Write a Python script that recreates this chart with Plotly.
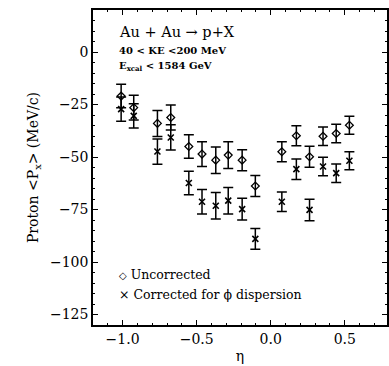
import plotly.graph_objects as go

eta = [-1.01, -0.925, -0.765, -0.675, -0.553, -0.464, -0.371, -0.287,
       -0.193, -0.104, 0.075, 0.173, 0.262, 0.353, 0.442, 0.531]
uncorr = [-21.0, -26.5, -34.0, -31.2, -45.0, -48.6, -51.5, -49.1,
          -51.5, -63.8, -47.5, -39.9, -49.9, -40.1, -38.8, -34.9]
uncorr_err = [5.6, 5.9, 6.2, 6.0, 5.6, 5.9, 6.3, 6.4,
              5.0, 5.0, 4.8, 4.8, 5.0, 4.4, 4.4, 4.3]
corr = [-27.2, -30.4, -47.4, -40.7, -62.4, -71.3, -73.2, -70.8,
        -74.8, -89.0, -71.3, -55.8, -75.2, -54.5, -57.7, -51.8]
corr_err = [5.8, 5.8, 6.0, 6.0, 5.6, 5.8, 6.3, 6.3,
            5.2, 4.9, 4.6, 4.9, 5.1, 4.4, 4.4, 4.3]

FONT = "DejaVu Serif"

fig = go.Figure()
fig.add_trace(go.Scatter(
    x=eta, y=uncorr, mode="markers", name="Uncorrected",
    marker=dict(symbol="diamond-open", size=6, color="black", line=dict(width=1.3)),
    error_y=dict(type="data", array=uncorr_err, visible=True,
                 color="black", thickness=1.5, width=5),
))
fig.add_trace(go.Scatter(
    x=eta, y=corr, mode="markers", name="Corrected for \u03d5 dispersion",
    marker=dict(symbol="x-thin-open", size=6, color="black", line=dict(width=1.6)),
    error_y=dict(type="data", array=corr_err, visible=True,
                 color="black", thickness=1.5, width=5),
))

axis_common = dict(
    showline=True, linecolor="black", linewidth=1.5, mirror="ticks",
    ticks="inside", tickcolor="black", ticklen=5, tickwidth=1,
    showgrid=False, zeroline=False,
    tickfont=dict(family=FONT, size=14, color="black"),
)

fig.update_xaxes(
    range=[-1.2, 0.785], tickvals=[-1.0, -0.5, 0.0, 0.5],
    ticktext=["\u22121.0", "\u22120.5", "0.0", "0.5"],
    minor=dict(dtick=0.1, ticks="inside", ticklen=2.5, tickcolor="black", tickwidth=1),
    title=dict(text="\u03b7", font=dict(family=FONT, size=14, color="black"), standoff=6),
    **axis_common,
)
fig.update_yaxes(
    range=[-130, 20], tickvals=[0, -25, -50, -75, -100, -125],
    minor=dict(dtick=5, ticks="inside", ticklen=2.5, tickcolor="black", tickwidth=1),
    title=dict(text="Proton &lt;P<sub>x</sub>&gt; (MeV/c)",
               font=dict(family=FONT, size=14, color="black"), standoff=8),
    **axis_common,
)

fig.add_annotation(xref="paper", yref="paper", x=0.08, y=0.930, xanchor="left", yanchor="middle",
                   text="Au + Au \u2192 p+X", showarrow=False,
                   font=dict(family=FONT, size=14.5, color="black"))
fig.add_annotation(xref="paper", yref="paper", x=0.08, y=0.870, xanchor="left", yanchor="middle",
                   text="<b>40 &lt; KE &lt;200 MeV</b>", showarrow=False,
                   font=dict(family=FONT, size=10, color="black"))
fig.add_annotation(xref="paper", yref="paper", x=0.08, y=0.822, xanchor="left", yanchor="middle",
                   text="<b>E<sub>xcal</sub> &lt; 1584 GeV</b>", showarrow=False,
                   font=dict(family=FONT, size=10, color="black"))

legend_labels = [
    "<span style=\"font-family:'DejaVu Sans';font-size:10px\">\u25c7</span> Uncorrected",
    "\u00d7 Corrected for \u03d5 dispersion",
]
legend_y = [0.159, 0.098]
for lab, ly in zip(legend_labels, legend_y):
    fig.add_annotation(xref="paper", yref="paper", x=0.083, y=ly, xanchor="left", yanchor="middle",
                       text=lab, showarrow=False,
                       font=dict(family=FONT + ", DejaVu Sans", size=12.5, color="black"))

fig.update_layout(
    width=389, height=366,
    margin=dict(l=93, r=0, t=10, b=41),
    paper_bgcolor="white", plot_bgcolor="white",
    showlegend=False,
)

fig.write_html("out.html")
